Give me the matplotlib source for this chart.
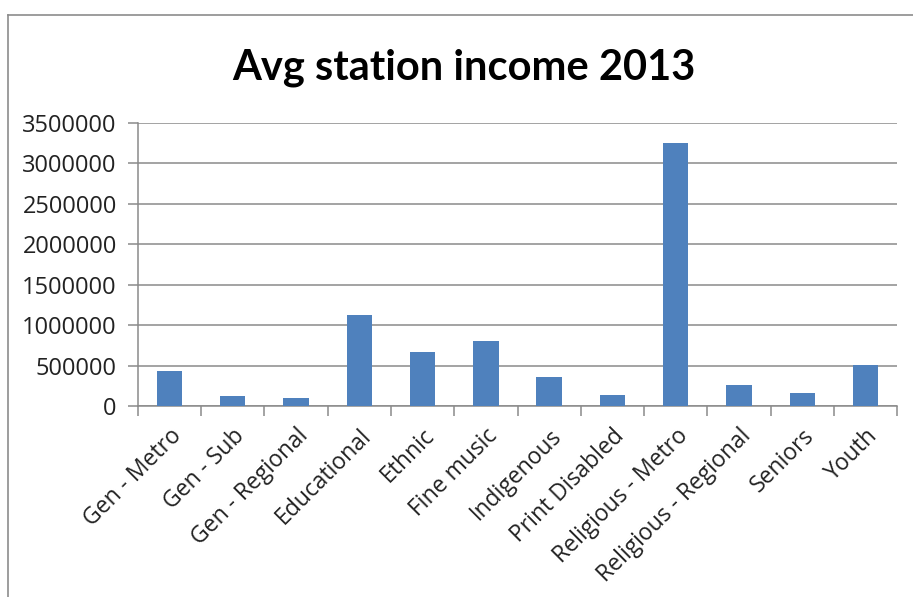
import matplotlib.pyplot as plt
from matplotlib.lines import Line2D
import numpy as np

categories = ["Gen - Metro", "Gen - Sub", "Gen - Regional", "Educational", "Ethnic",
              "Fine music", "Indigenous", "Print Disabled", "Religious - Metro",
              "Religious - Regional", "Seniors", "Youth"]
income = [432000, 120000, 99000, 1124000, 671000, 807000, 354000, 140000,
          3253000, 255000, 157000, 506000]
yticks = [0, 500000, 1000000, 1500000, 2000000, 2500000, 3000000, 3500000]

W, H = 913, 597
fig = plt.figure(figsize=(W / 100, H / 100), dpi=100, facecolor="white")
plt.rcParams["font.family"] = ["Open Sans", "DejaVu Sans"]

# Chart-area border (only left and top visible in the crop)
fig.add_artist(Line2D([8 / W, 8 / W], [0, 1 - 15 / H], transform=fig.transFigure,
                      color="#8c8c8c", linewidth=1.2))
fig.add_artist(Line2D([8 / W, 1], [1 - 15 / H, 1 - 15 / H], transform=fig.transFigure,
                      color="#8c8c8c", linewidth=1.2))

ax = fig.add_axes([137.7 / W, (H - 406) / H, (897.3 - 137.7) / W, (406 - 122.7) / H])
x = np.arange(len(categories))
ax.bar(x, income, width=0.4, color="#4F81BD", zorder=3)

ax.set_xlim(-0.5, len(categories) - 0.5)
ax.set_ylim(0, 3500000)
ax.set_yticks(yticks)
ax.set_yticklabels([str(v) for v in yticks], fontsize=17, color="#222222")
ax.yaxis.grid(True, color="#8a8a8a", linewidth=1.1, zorder=0)

ax.set_xticks(x)
ax.set_xticklabels(categories, rotation=45, ha="right", va="top",
                   rotation_mode="anchor", fontsize=16.5, color="#222222")
ax.tick_params(axis="x", length=0, pad=13)
ax.set_xticks(np.arange(-0.5, len(categories)), minor=True)
ax.tick_params(axis="x", which="minor", length=7, color="#8a8a8a", width=1.1)
ax.tick_params(axis="y", length=7, color="#8a8a8a", width=1.1, pad=8)

for s in ["top", "right"]:
    ax.spines[s].set_visible(False)
for s in ["left", "bottom"]:
    ax.spines[s].set_color("#8a8a8a")
    ax.spines[s].set_linewidth(1.1)

fig.text(464 / W, 1 - 68 / H, "Avg station income 2013", ha="center", va="center",
         fontsize=30, fontweight="bold", color="black", family=["Lato", "DejaVu Sans"])

fig.savefig("out.png", dpi=100, facecolor="white")
